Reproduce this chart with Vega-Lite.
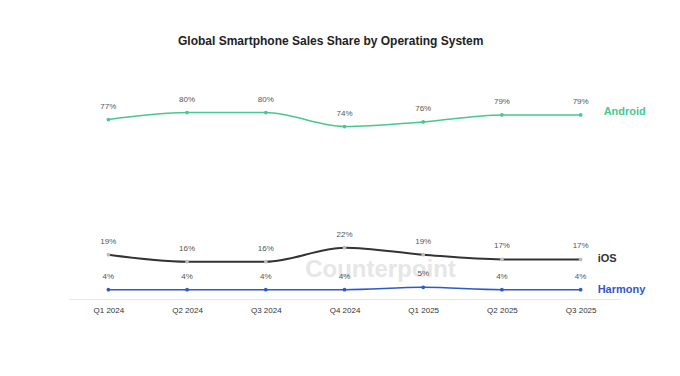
{
  "$schema": "https://vega.github.io/schema/vega-lite/v6.json",
  "autosize": "none",
  "padding": {"left": 69, "top": 66, "right": 60, "bottom": 77},
  "width": 551,
  "height": 233,
  "background": "white",
  "config": {"view": {"stroke": null}, "font": "Liberation Sans"},
  "title": {
    "text": "Global Smartphone Sales Share by Operating System",
    "anchor": "start",
    "frame": "group",
    "dx": 109,
    "offset": 18,
    "fontSize": 12,
    "fontWeight": "bold",
    "color": "#222222",
    "font": "Liberation Sans"
  },
  "datasets": {
    "share": [
      {"quarter": "Q1 2024", "os": "Android", "share": 77},
      {"quarter": "Q2 2024", "os": "Android", "share": 80},
      {"quarter": "Q3 2024", "os": "Android", "share": 80},
      {"quarter": "Q4 2024", "os": "Android", "share": 74},
      {"quarter": "Q1 2025", "os": "Android", "share": 76},
      {"quarter": "Q2 2025", "os": "Android", "share": 79},
      {"quarter": "Q3 2025", "os": "Android", "share": 79},
      {"quarter": "Q1 2024", "os": "iOS", "share": 19},
      {"quarter": "Q2 2024", "os": "iOS", "share": 16},
      {"quarter": "Q3 2024", "os": "iOS", "share": 16},
      {"quarter": "Q4 2024", "os": "iOS", "share": 22},
      {"quarter": "Q1 2025", "os": "iOS", "share": 19},
      {"quarter": "Q2 2025", "os": "iOS", "share": 17},
      {"quarter": "Q3 2025", "os": "iOS", "share": 17},
      {"quarter": "Q1 2024", "os": "Harmony", "share": 4},
      {"quarter": "Q2 2024", "os": "Harmony", "share": 4},
      {"quarter": "Q3 2024", "os": "Harmony", "share": 4},
      {"quarter": "Q4 2024", "os": "Harmony", "share": 4},
      {"quarter": "Q1 2025", "os": "Harmony", "share": 5},
      {"quarter": "Q2 2025", "os": "Harmony", "share": 4},
      {"quarter": "Q3 2025", "os": "Harmony", "share": 4}
    ],
    "wm": [{"wm": "Counterpoint", "quarter": "Q4 2024", "share": 12}]
  },
  "data": {"name": "share"},
  "encoding": {
    "x": {
      "field": "quarter",
      "type": "ordinal",
      "sort": null,
      "scale": {"type": "point", "padding": 0.5, "domain": ["Q1 2024", "Q2 2024", "Q3 2024", "Q4 2024", "Q1 2025", "Q2 2025", "Q3 2025"]},
      "axis": {
        "title": null,
        "labelAngle": 0,
        "ticks": false,
        "grid": false,
        "domainColor": "#e6e6e6",
        "labelFontSize": 8,
        "labelColor": "#333333",
        "labelPadding": 7,
        "labelFont": "Liberation Sans"
      }
    },
    "y": {
      "field": "share",
      "type": "quantitative",
      "scale": {"domain": [0, 100], "nice": false, "zero": true},
      "axis": null
    }
  },
  "layer": [
    {
      "data": {"name": "wm"},
      "mark": {"type": "text", "fontSize": 24, "fontWeight": "bold", "align": "center", "baseline": "middle", "dx": 36, "dy": -1, "color": "#e6e6e6"},
      "encoding": {
        "text": {"field": "wm", "type": "nominal"}
      }
    },
    {
      "mark": {"type": "line", "interpolate": "monotone"},
      "encoding": {
        "color": {
          "field": "os",
          "type": "nominal",
          "scale": {"domain": ["Android", "iOS", "Harmony"], "range": ["#45c98f", "#333333", "#2f58cc"]},
          "legend": null
        },
        "strokeWidth": {"condition": {"test": "datum.os === 'iOS'", "value": 2}, "value": 1.5}
      }
    },
    {
      "mark": {"type": "point", "filled": true, "size": 14, "opacity": 1},
      "encoding": {
        "color": {
          "condition": {"test": "datum.os === 'iOS'", "value": "#bdbdbd"},
          "field": "os",
          "type": "nominal",
          "legend": null
        }
      }
    },
    {
      "transform": [{"calculate": "datum.share + '%'", "as": "lbl"}],
      "mark": {"type": "text", "fontSize": 8, "dy": -13, "font": "Liberation Sans", "color": "#555555"},
      "encoding": {
        "text": {"field": "lbl"}
      }
    },
    {
      "transform": [{"filter": "datum.quarter === 'Q3 2025' && datum.os === 'Android'"}],
      "mark": {"type": "text", "align": "left", "baseline": "middle", "dx": 23, "dy": -3, "fontSize": 11, "fontWeight": "bold"},
      "encoding": {"text": {"field": "os"}, "color": {"field": "os", "type": "nominal", "legend": null}}
    },
    {
      "transform": [{"filter": "datum.quarter === 'Q3 2025' && datum.os !== 'Android'"}],
      "mark": {"type": "text", "align": "left", "baseline": "middle", "dx": 17, "dy": 0, "fontSize": 11, "fontWeight": "bold"},
      "encoding": {"text": {"field": "os"}, "color": {"field": "os", "type": "nominal", "legend": null}}
    }
  ]
}
